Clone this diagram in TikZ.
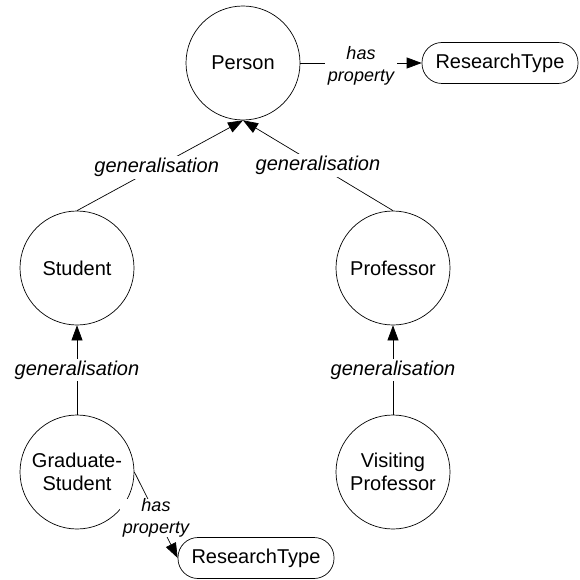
\documentclass[tikz,border=0pt]{standalone}
\usepackage{fontspec}
\setmainfont{Liberation Sans}
\usetikzlibrary{arrows.meta}
\begin{document}
\begin{tikzpicture}[x=1pt,y=-1pt,
  concept/.style={draw,circle,line width=0.7pt,minimum size=114pt,inner sep=0pt,
    align=center,font=\fontsize{20}{23}\selectfont},
  valuebox/.style={draw,rectangle,rounded corners=20pt,line width=0.7pt,
    minimum width=156pt,minimum height=41pt,inner sep=0pt,font=\fontsize{20}{23}\selectfont},
  link/.style={line width=0.7pt,-{Triangle[length=15pt,width=11pt]}},
  genlabel/.style={fill=white,inner sep=2pt,font=\fontsize{20}{23}\selectfont\itshape},
  proplabel/.style={fill=white,inner xsep=3pt,inner ysep=0pt,yshift=-3pt,align=center,
    font=\fontsize{18}{22}\selectfont\itshape}]
  \useasboundingbox (0,0) rectangle (579,580);

  % classes
  \node[concept] (person) at (243,63) {Person};
  \node[concept] (student) at (77,268) {Student};
  \node[concept] (prof) at (393,268) {Professor};
  \node[concept] (grad) at (77,472) {Graduate-\\Student};
  \node[concept] (visit) at (393,472) {Visiting\\Professor};

  % property values
  \node[valuebox] (rt1) at (500,63) {ResearchType};
  \node[valuebox] (rt2) at (256,558) {ResearchType};

  % generalisation links
  \draw[link] (student.north) -- node[genlabel,pos=0.48] {generalisation} (person.south);
  \draw[link] (prof.north) -- node[genlabel,pos=0.5] {generalisation} (person.south);
  \draw[link] (grad.north) -- node[genlabel] {generalisation} (student.south);
  \draw[link] (visit.north) -- node[genlabel] {generalisation} (prof.south);

  % property links
  \draw[link] (person.east) -- node[proplabel] {has\\property} (rt1.west);
  \draw[link] (grad.east) -- node[proplabel] {has\\property} (rt2.west);
\end{tikzpicture}
\end{document}
